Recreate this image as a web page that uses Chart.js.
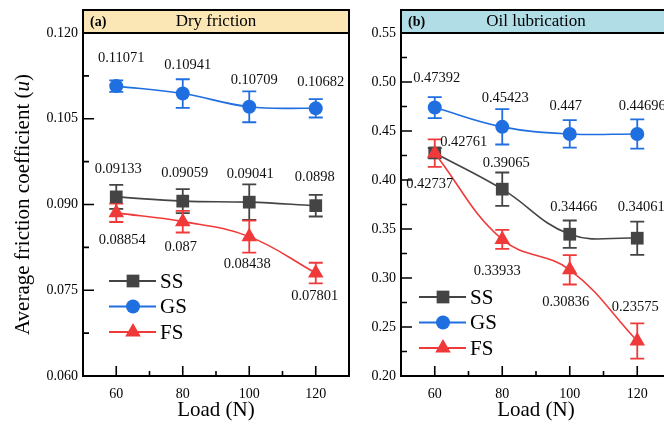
<!DOCTYPE html>
<html>
<head>
<meta charset="utf-8">
<script src="https://cdn.jsdelivr.net/npm/chart.js@4.4.1/dist/chart.umd.min.js"></script>
<style>
  html, body { margin: 0; padding: 0; background: #fff; }
  body { width: 664px; height: 425px; overflow: hidden; position: relative; }
  .panel { position: absolute; top: 0; height: 425px; }
  #panelA { left: 0; width: 358px; }
  #panelB { left: 356px; width: 330px; }
</style>
</head>
<body>
<div class="panel" id="panelA"><canvas id="dryChart"></canvas></div>
<div class="panel" id="panelB"><canvas id="oilChart"></canvas></div>
<script>
// values
const loads = [60, 80, 100, 120];
const xTicks = [60, 80, 100, 120];

const drySS = [0.09133, 0.09059, 0.09041, 0.0898];
const dryGS = [0.11071, 0.10941, 0.10709, 0.10682];
const dryFS = [0.08854, 0.087, 0.08438, 0.07801];
const drySSErr = [0.0021, 0.0021, 0.0031, 0.0019];
const dryGSErr = [0.001, 0.0025, 0.0027, 0.0016];
const dryFSErr = [0.0016, 0.0019, 0.0028, 0.0018];
const dryTicks = [0.06, 0.075, 0.09, 0.105, 0.12];

const oilSS = [0.42761, 0.39065, 0.34466, 0.34061];
const oilGS = [0.47392, 0.45423, 0.447, 0.44696];
const oilFS = [0.42737, 0.33933, 0.30836, 0.23575];
const oilSSErr = [0.005, 0.017, 0.014, 0.017];
const oilGSErr = [0.0107, 0.018, 0.014, 0.015];
const oilFSErr = [0.014, 0.0097, 0.015, 0.018];
const oilTicks = [0.20, 0.25, 0.30, 0.35, 0.40, 0.45, 0.50, 0.55];

const SERIF = '"Liberation Serif", "Times New Roman", serif';
const styles = {
  SS: { color: '#444444', pointStyle: 'rect', radius: 9, order: 2 },
  GS: { color: '#1f6fe0', pointStyle: 'circle', radius: 7, order: 1 },
  FS: { color: '#f03a3a', pointStyle: 'triangle', radius: 9, order: 0 }
};

function series(name, vals, errs, offsets) {
  const s = styles[name];
  return {
    label: name,
    data: loads.map((x, i) => ({ x: x, y: vals[i] })),
    errors: errs,
    labelOffsets: offsets,
    borderColor: s.color,
    backgroundColor: s.color,
    borderWidth: 1.6,
    pointStyle: s.pointStyle,
    pointRadius: s.radius,
    pointBorderWidth: 0,
    tension: 0.4,
    order: s.order
  };
}

// helper: minor ticks half way between major ones
function minors(vals) {
  const out = [];
  for (let i = 0; i < vals.length - 1; i++) out.push((vals[i] + vals[i + 1]) / 2);
  return out;
}

const panelPlugin = {
  id: 'panel',
  beforeDatasetsDraw(chart) {
    const { ctx, scales: { y } } = chart;
    ctx.save();
    chart.data.datasets.forEach((ds, di) => {
      const meta = chart.getDatasetMeta(di);
      ctx.strokeStyle = ds.borderColor;
      ctx.lineWidth = 1.8;
      meta.data.forEach((pt, i) => {
        const v = ds.data[i].y, e = ds.errors[i];
        const y1 = y.getPixelForValue(v + e), y2 = y.getPixelForValue(v - e);
        ctx.beginPath();
        ctx.moveTo(pt.x, y1); ctx.lineTo(pt.x, y2);
        ctx.moveTo(pt.x - 7, y1); ctx.lineTo(pt.x + 7, y1);
        ctx.moveTo(pt.x - 7, y2); ctx.lineTo(pt.x + 7, y2);
        ctx.stroke();
      });
    });
    ctx.restore();
  },
  afterDatasetsDraw(chart) {
    const ctx = chart.ctx;
    ctx.save();
    ctx.font = '14.5px ' + SERIF;
    ctx.fillStyle = '#111';
    ctx.textAlign = 'center';
    ctx.textBaseline = 'middle';
    chart.data.datasets.forEach((ds, di) => {
      const meta = chart.getDatasetMeta(di);
      meta.data.forEach((pt, i) => {
        const o = ds.labelOffsets[i];
        ctx.fillText(String(ds.data[i].y), pt.x + o[0], pt.y + o[1]);
      });
    });
    ctx.restore();
  },
  afterDraw(chart, args, opts) {
    const { ctx, chartArea: a, scales: { x, y } } = chart;
    ctx.save();

    // title band
    ctx.fillStyle = opts.band;
    ctx.fillRect(a.left, 10, a.right - a.left, a.top - 10);
    ctx.strokeStyle = '#000';
    ctx.lineWidth = 2;
    ctx.strokeRect(a.left, 10, a.right - a.left, a.top - 10);
    ctx.fillStyle = '#000';
    ctx.textBaseline = 'middle';
    ctx.font = 'bold 14px ' + SERIF;
    ctx.textAlign = 'left';
    ctx.fillText(opts.tag, a.left + 7, 22);
    ctx.font = '17px ' + SERIF;
    ctx.textAlign = 'center';
    ctx.fillText(opts.title, (a.left + a.right) / 2, 22);

    // frame
    ctx.strokeRect(a.left, a.top, a.right - a.left, a.bottom - a.top);

    // inward ticks
    ctx.lineWidth = 1.6;
    ctx.beginPath();
    const xm = x.ticks.map(t => t.value), ym = y.ticks.map(t => t.value);
    xm.forEach(v => { const p = x.getPixelForValue(v); ctx.moveTo(p, a.bottom); ctx.lineTo(p, a.bottom - 10); });
    minors(xm).forEach(v => { const p = x.getPixelForValue(v); ctx.moveTo(p, a.bottom); ctx.lineTo(p, a.bottom - 5); });
    ym.forEach(v => { const p = y.getPixelForValue(v); ctx.moveTo(a.left, p); ctx.lineTo(a.left + 11, p); });
    minors(ym).forEach(v => { const p = y.getPixelForValue(v); ctx.moveTo(a.left, p); ctx.lineTo(a.left + 6, p); });
    ctx.stroke();

    // legend
    const lg = opts.legend;
    chart.data.datasets.forEach((ds, i) => {
      const ly = lg.y + i * 25.5;
      ctx.strokeStyle = ds.borderColor;
      ctx.lineWidth = 1.8;
      ctx.beginPath();
      ctx.moveTo(lg.x, ly); ctx.lineTo(lg.x + 47, ly);
      ctx.stroke();
      ctx.fillStyle = ds.backgroundColor;
      Chart.helpers.drawPoint(ctx, { pointStyle: ds.pointStyle, radius: ds.pointRadius, borderWidth: 0, rotation: 0 }, lg.x + 24, ly);
      ctx.fillStyle = '#000';
      ctx.font = '21px ' + SERIF;
      ctx.textAlign = 'left';
      ctx.fillText(ds.label, lg.x + 51, ly + 1);
    });

    // y title (left panel only)
    if (opts.yTitle) {
      const parts = [['Average friction coefficient (', ''], ['u', 'italic '], [')', '']];
      ctx.save();
      ctx.translate(23, (a.top + a.bottom) / 2);
      ctx.rotate(-Math.PI / 2);
      let total = 0;
      parts.forEach(p => { ctx.font = p[1] + '21px ' + SERIF; total += ctx.measureText(p[0]).width; });
      let cx = -total / 2;
      ctx.textAlign = 'left';
      ctx.fillStyle = '#000';
      parts.forEach(p => { ctx.font = p[1] + '21px ' + SERIF; ctx.fillText(p[0], cx, 0); cx += ctx.measureText(p[0]).width; });
      ctx.restore();
    }
    ctx.restore();
  }
};

function buildChart(id, cfg) {
  const tickFont = { family: SERIF, size: 14 };
  return new Chart(document.getElementById(id), {
    type: 'line',
    data: {
      datasets: [
        series('SS', cfg.ss, cfg.ssErr, cfg.ssOff),
        series('GS', cfg.gs, cfg.gsErr, cfg.gsOff),
        series('FS', cfg.fs, cfg.fsErr, cfg.fsOff)
      ]
    },
    options: {
      responsive: true,
      maintainAspectRatio: false,
      animation: false,
      layout: { padding: { top: 33, right: cfg.padRight, left: 0, bottom: 0 } },
      plugins: {
        legend: { display: false },
        tooltip: { enabled: false },
        panel: { band: cfg.band, tag: cfg.tag, title: cfg.title, legend: cfg.legend, yTitle: cfg.yTitle }
      },
      scales: {
        x: {
          type: 'linear', min: 50, max: 130,
          afterBuildTicks: s => { s.ticks = xTicks.map(v => ({ value: v })); },
          afterFit: s => { s.height = 49; },
          grid: { display: false, drawTicks: false }, border: { display: false },
          ticks: { font: tickFont, color: '#000', padding: 10 },
          title: { display: true, text: 'Load (N)', font: { family: SERIF, size: 21 }, color: '#000', padding: { top: 0, bottom: 2 } }
        },
        y: {
          min: cfg.yTicks[0], max: cfg.yTicks[cfg.yTicks.length - 1],
          afterBuildTicks: s => { s.ticks = cfg.yTicks.map(v => ({ value: v })); },
          afterFit: s => { s.width = cfg.yWidth; },
          grid: { display: false, drawTicks: false }, border: { display: false },
          ticks: { font: tickFont, color: '#000', padding: 5, callback: v => Number(v).toFixed(cfg.decimals) }
        }
      }
    },
    plugins: [panelPlugin]
  });
}

buildChart('dryChart', {
  ss: drySS, gs: dryGS, fs: dryFS,
  ssErr: drySSErr, gsErr: dryGSErr, fsErr: dryFSErr,
  ssOff: [[2, -28], [2, -28], [1, -28], [-1, -28]],
  gsOff: [[5, -28], [5, -28], [5, -27], [5, -26]],
  fsOff: [[6, 27], [-2, 26], [-2, 28], [-1, 23]],
  yTicks: dryTicks, decimals: 3, yWidth: 83, padRight: 3,
  band: '#fae7b5', tag: '(a)', title: 'Dry friction',
  legend: { x: 109, y: 281 }, yTitle: true
});

buildChart('oilChart', {
  ss: oilSS, gs: oilGS, fs: oilFS,
  ssErr: oilSSErr, gsErr: oilGSErr, fsErr: oilFSErr,
  ssOff: [[29, -11], [4, -26], [4, -27], [4, -31]],
  gsOff: [[2, -29], [3, -29], [-4, -28], [5, -28]],
  fsOff: [[-5, 31], [-5, 32], [-4, 32], [-2, -34]],
  yTicks: oilTicks, decimals: 2, yWidth: 45, padRight: 15,
  band: '#b0dde6', tag: '(b)', title: 'Oil lubrication',
  legend: { x: 63, y: 297 }, yTitle: false
});
</script>
</body>
</html>
